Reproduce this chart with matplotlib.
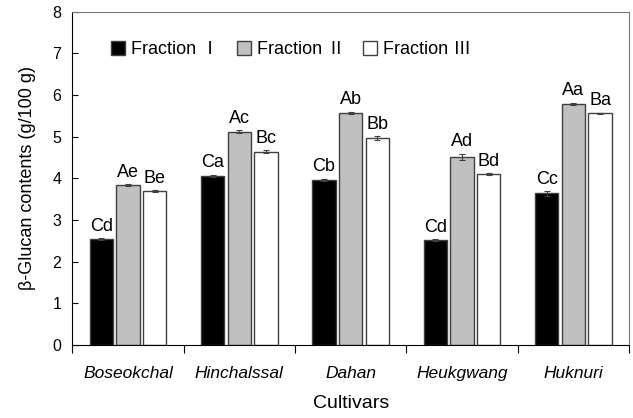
import numpy as np
import matplotlib.pyplot as plt

cultivars = ['Boseokchal', 'Hinchalssal', 'Dahan', 'Heukgwang', 'Huknuri']
series_names = ['Fraction Ⅰ', 'Fraction Ⅱ', 'Fraction Ⅲ']

frac1 = [2.54, 4.06, 3.96, 2.52, 3.64]
frac2 = [3.84, 5.12, 5.57, 4.52, 5.79]
frac3 = [3.70, 4.64, 4.97, 4.10, 5.56]

err1 = [0.03, 0.03, 0.03, 0.02, 0.06]
err2 = [0.02, 0.03, 0.03, 0.07, 0.03]
err3 = [0.02, 0.03, 0.04, 0.02, 0.02]

lab1 = ['Cd', 'Ca', 'Cb', 'Cd', 'Cc']
lab2 = ['Ae', 'Ac', 'Ab', 'Ad', 'Aa']
lab3 = ['Be', 'Bc', 'Bb', 'Bd', 'Ba']


def main():
    plt.rcParams['font.family'] = ['Liberation Sans', 'Noto Sans CJK KR', 'DejaVu Sans']
    fig = plt.figure(figsize=(6.33, 4.18), dpi=100)
    ax = fig.add_axes([0.1142, 0.1746, 0.8795, 0.7974])

    x = np.arange(len(cultivars))
    width = 0.21
    offs = [-0.24, 0.0, 0.24]
    colors = ['black', '#c0c0c0', 'white']
    values = [frac1, frac2, frac3]
    errs = [err1, err2, err3]
    labels = [lab1, lab2, lab3]

    for i in range(3):
        ax.bar(x + offs[i], values[i], width, color=colors[i], edgecolor='#404040',
               linewidth=1.0, label=series_names[i], zorder=2)
        ax.errorbar(x + offs[i], values[i], yerr=errs[i], fmt='none', ecolor='#404040',
                    elinewidth=0.8, capsize=2.5, capthick=0.8, zorder=3)
        for xi, v, e, t in zip(x + offs[i], values[i], errs[i], labels[i]):
            ax.text(xi, v + e + 0.08, t, ha='center', va='bottom', fontsize=13)

    ax.set_xlim(-0.5, len(cultivars) - 0.5)
    ax.set_ylim(0, 8)
    ax.set_yticks(range(0, 9))
    ax.tick_params(axis='y', direction='in', length=4, labelsize=11.5, pad=8)

    ax.set_xticks(np.arange(-0.5, len(cultivars)))
    ax.set_xticklabels([])
    ax.tick_params(axis='x', which='major', direction='out', length=6)
    ax.set_xticks(x, minor=True)
    ax.set_xticklabels(cultivars, minor=True, fontstyle='italic', fontsize=12.5)
    ax.tick_params(axis='x', which='minor', length=0, pad=15)

    ax.set_xlabel('Cultivars', fontsize=14, labelpad=10)
    ax.set_ylabel('β-Glucan contents (g/100 g)', fontsize=13, labelpad=12)

    ax.spines['top'].set_color('#777777')
    ax.spines['right'].set_color('#777777')

    ax.legend(loc='upper left', bbox_to_anchor=(0.04, 0.96), ncol=3, frameon=False,
              fontsize=13, handlelength=0.8, handleheight=0.8, handletextpad=0.3,
              columnspacing=1.0)

    plt.savefig('out.png', dpi=100)


main()
